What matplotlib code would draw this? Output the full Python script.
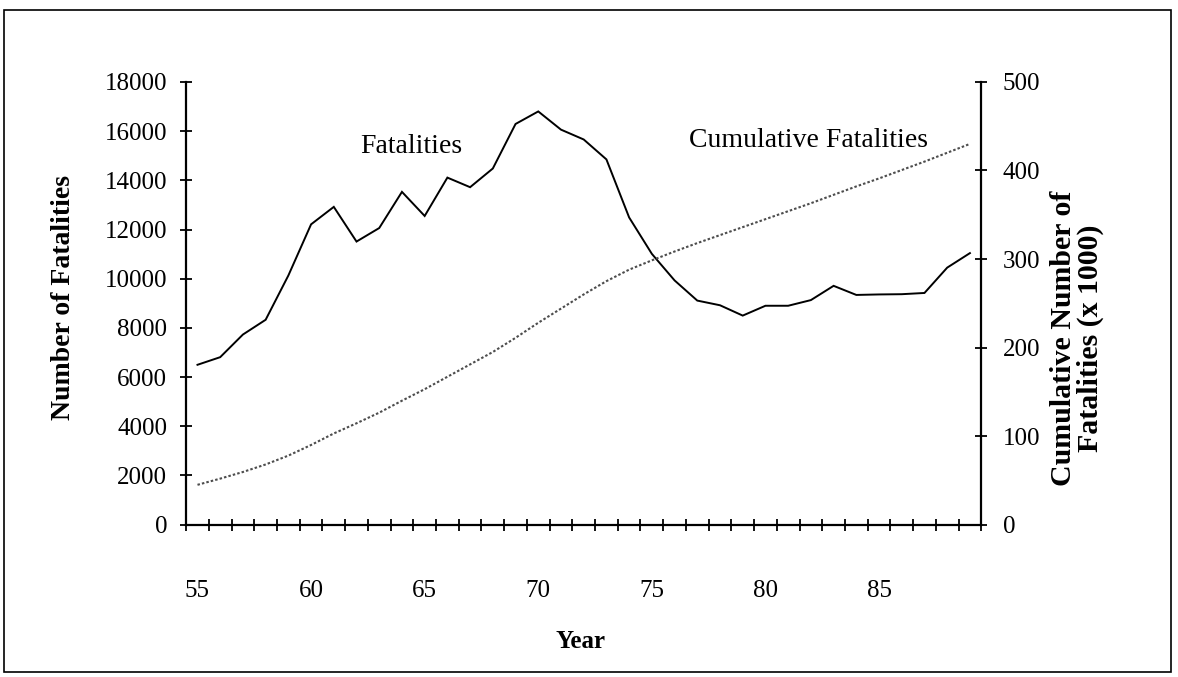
import numpy as np
import matplotlib
matplotlib.use('Agg')
import matplotlib.pyplot as plt
from matplotlib.patches import Rectangle

plt.rcParams['font.family'] = ['Liberation Serif', 'DejaVu Serif']

# data
years = list(range(55, 90))
fatalities = [6500, 6810, 7730, 8330, 10130, 12210, 12920, 11510, 12060, 13530,
              12550, 14110, 13720, 14480, 16290, 16800, 16060, 15660, 14850, 12490,
              11010, 9930, 9110, 8920, 8500, 8900, 8900, 9130, 9710, 9340,
              9360, 9370, 9420, 10450, 11040]
cumulative = [45, 52, 59.5, 68, 78, 90, 103, 114.5, 126.5, 140,
              153, 167, 181, 195, 211, 228, 244, 260, 275, 288,
              298.5, 308.5, 318, 327, 336, 345, 354, 363, 372.5, 382,
              391, 400.5, 410, 420, 430]
year_labels = [55, 60, 65, 70, 75, 80, 85]
left_ticks = list(range(0, 18001, 2000))
right_ticks = [0, 100, 200, 300, 400, 500]

fig = plt.figure(figsize=(11.78, 6.77), dpi=100)
ax = fig.add_axes([0.158, 0.225, 0.675, 0.654])
ax2 = ax.twinx()

ax.plot(years, fatalities, color='black', lw=1.4, solid_joinstyle='miter')
ax2.plot(years, cumulative, color='0.3', lw=1.5, linestyle=(0, (1.2, 1.0)))

ax.set_xlim(54.5, 89.5)
ax.set_ylim(0, 18000)
ax2.set_ylim(0, 500)

for a in (ax, ax2):
    a.spines['top'].set_visible(False)
    for s in ('left', 'right', 'bottom'):
        a.spines[s].set_linewidth(1.6)
ax.spines['right'].set_visible(False)
ax2.spines['left'].set_visible(False)
ax2.spines['bottom'].set_visible(False)

# x axis: labels at category centres, tick marks between categories
ax.set_xticks(year_labels)
ax.set_xticklabels([str(y) for y in year_labels])
ax.set_xticks(np.arange(54.5, 89.6, 1.0), minor=True)
ax.tick_params(axis='x', which='major', length=0, pad=40, labelsize=18)
ax.tick_params(axis='x', which='minor', direction='inout', length=9, width=1.3)

ax.set_yticks(left_ticks)
ax.set_yticklabels([str(v) for v in left_ticks])
ax.tick_params(axis='y', direction='inout', length=9, width=1.3, pad=9, labelsize=18)

ax2.set_yticks(right_ticks)
ax2.set_yticklabels([str(v) for v in right_ticks])
ax2.tick_params(axis='y', direction='inout', length=9, width=1.3, pad=11, labelsize=18)

ax.text(64.4, 15360, 'Fatalities', fontsize=20, ha='center', va='center')
ax.text(81.9, 15600, 'Cumulative Fatalities', fontsize=20, ha='center', va='center')

fig.text(64 / 1178, 1 - 297 / 677, 'Number of Fatalities', rotation=90,
         ha='center', va='center', fontsize=20, fontweight='bold')
fig.text(1077 / 1178, 1 - 338 / 677, 'Cumulative Number of\nFatalities (x 1000)',
         rotation=90, ha='center', va='center', fontsize=21.5, fontweight='bold',
         linespacing=0.98, multialignment='center')
fig.text(580 / 1178, 1 - 642 / 677, 'Year', ha='center', va='center',
         fontsize=18, fontweight='bold')

# outer frame
fig.patches.append(Rectangle((0.003, 0.008), 0.991, 0.977, transform=fig.transFigure,
                             fill=False, edgecolor='black', lw=1.2))

fig.savefig('out.png', dpi=100)
